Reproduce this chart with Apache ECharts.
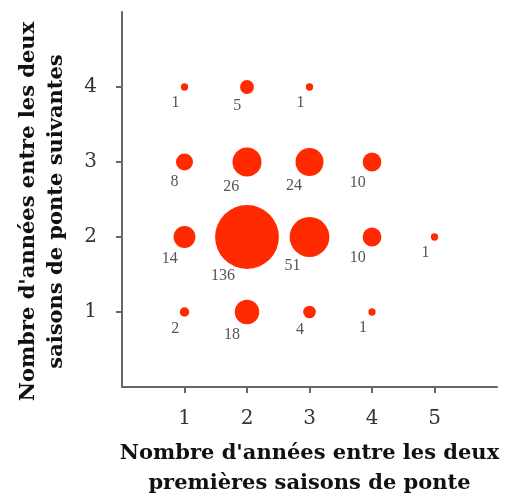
<!DOCTYPE html>
<html>
<head>
<meta charset="utf-8">
<script src="https://cdn.jsdelivr.net/npm/echarts@6/dist/echarts.min.js"></script>
<style>html,body{margin:0;padding:0;background:#fff}#c{width:505px;height:497px}</style>
</head>
<body>
<div id="c"></div>
<script>
const firstInterval = [1, 2, 3, 1, 2, 3, 4, 1, 2, 3, 4, 5, 1, 2, 3, 4];
const nextInterval  = [4, 4, 4, 3, 3, 3, 3, 2, 2, 2, 2, 2, 1, 1, 1, 1];
const counts        = [1, 5, 1, 8, 26, 24, 10, 14, 136, 51, 10, 1, 2, 18, 4, 1];
const xTickValues = [1, 2, 3, 4, 5];
const yTickValues = [1, 2, 3, 4];
const xTitle = "Nombre d'années entre les deux\npremières saisons de ponte";
const yTitle = "Nombre d'années entre les deux\nsaisons de ponte suivantes";

const diam = v => 5.3 * Math.sqrt(v) + 2;
const data = counts.map((v, i) => {
  const r = diam(v) / 2;
  return {
    value: [firstInterval[i], nextInterval[i], v],
    label: { offset: [-(0.25 * r + 4), 0.8 * r + 13] }
  };
});

const serif = "'Liberation Serif', 'DejaVu Serif', serif";
const wide = "'DejaVu Serif', 'Liberation Serif', serif";
const chart = echarts.init(document.getElementById('c'), null, { renderer: 'canvas' });
chart.setOption({
  animation: false,
  grid: { left: 122, right: 8, top: 12, bottom: 110, outerBoundsMode: 'none', containLabel: false },
  xAxis: {
    type: 'value', min: 0, max: 6, interval: 1,
    splitLine: { show: false },
    axisLine: { lineStyle: { color: '#666', width: 2 } },
    axisTick: { show: true, length: 6, customValues: xTickValues, lineStyle: { color: '#666', width: 2 } },
    axisLabel: { customValues: xTickValues, color: '#333', fontFamily: wide, fontSize: 20, margin: 22 },
    name: xTitle, nameLocation: 'middle', nameGap: 52,
    nameTextStyle: { color: '#111', fontFamily: wide, fontSize: 21, fontWeight: 'bold', lineHeight: 30 }
  },
  yAxis: {
    type: 'value', min: 0, max: 5, interval: 1,
    splitLine: { show: false },
    axisLine: { lineStyle: { color: '#666', width: 2 } },
    axisTick: { show: true, length: 6, customValues: yTickValues, lineStyle: { color: '#666', width: 2 } },
    axisLabel: { customValues: yTickValues, color: '#333', fontFamily: wide, fontSize: 20, margin: 25 },
    name: yTitle, nameLocation: 'middle', nameGap: 51, nameRotate: 90,
    nameTextStyle: { color: '#111', fontFamily: wide, fontSize: 21, fontWeight: 'bold', lineHeight: 28, padding: [0, 24, 0, 0] }
  },
  series: [{
    type: 'scatter',
    data: data,
    symbol: 'circle',
    symbolSize: val => diam(val[2]),
    itemStyle: { color: '#ff2a00', opacity: 1 },
    label: {
      show: true, position: 'inside', align: 'right', verticalAlign: 'middle',
      formatter: p => String(p.value[2]),
      color: '#555', fontFamily: serif, fontSize: 16
    }
  }]
});
</script>
</body>
</html>
